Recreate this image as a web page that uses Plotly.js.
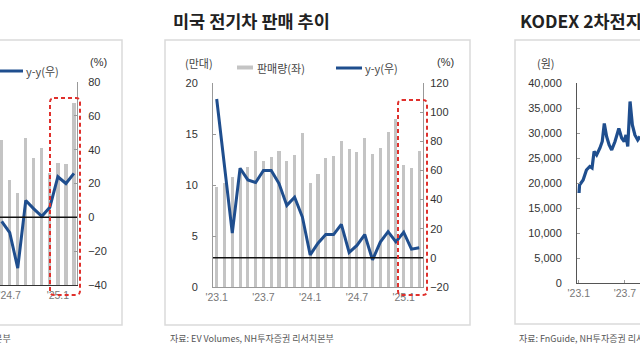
<!DOCTYPE html>
<html>
<head>
<meta charset="utf-8">
<script src="https://cdn.plot.ly/plotly-3.0.1.min.js"></script>
<style>html,body{margin:0;padding:0;background:#fff;}#chart{width:640px;height:360px;}</style>
</head>
<body>
<div id="chart"></div>
<script>
// ---- Left (partial) chart: y-y growth with bars (left axis cut off) ----
const leftMonths = ["2024-06","2024-07","2024-08","2024-09","2024-10","2024-11","2024-12","2025-01","2025-02","2025-03"];
const leftBars   = [28.6, 20.7, 18.1, 29.0, 25.0, 27.0, 22.0, 24.0, 23.8, 35.9];
const leftYoY    = [-2.4, -9, -30, 10, 5, 0.6, 6, 24, 20, 26];
const leftTickVals = ["2024-07","2025-01"];
const leftTickText = ["'24.7","'25.1"];

// ---- Middle chart: US EV sales ----
const usMonths = ["2023-01","2023-02","2023-03","2023-04","2023-05","2023-06","2023-07","2023-08","2023-09","2023-10","2023-11","2023-12",
                  "2024-01","2024-02","2024-03","2024-04","2024-05","2024-06","2024-07","2024-08","2024-09","2024-10","2024-11","2024-12",
                  "2025-01","2025-02","2025-03"];
const usSales = [9.8, 10.2, 10.8, 11.6, 11.8, 13.3, 12.4, 12.7, 13.3, 12.4, 12.9, 15.1,
                 10.2, 11.1, 12.6, 12.8, 14.3, 13.5, 13.2, 14.6, 13.0, 13.6, 15.2, 16.5,
                 12.0, 11.7, 13.3];
const usYoY   = [109, 63, 17, 61.5, 53.5, 51.7, 60, 60, 51, 36, 41.6, 28,
                 2, 10, 16, 16, 23, 3.7, 8.5, 16, -1.4, 10.8, 18, 11,
                 17.6, 6, 7];
const usTickVals = ["2023-01","2023-07","2024-01","2024-07","2025-01"];
const usTickText = ["'23.1","'23.7","'24.1","'24.7","'25.1"];

// ---- Right (partial) chart: KODEX battery ETF price ----
const etfDates = ["2023-01-02","2023-01-04","2023-01-18","2023-01-31","2023-02-13","2023-02-22","2023-03-02","2023-03-12",
                  "2023-03-25","2023-04-03","2023-04-11","2023-04-20","2023-04-30","2023-05-10","2023-05-23","2023-06-07",
                  "2023-06-18","2023-06-28","2023-07-05","2023-07-12","2023-07-21","2023-07-30","2023-08-09","2023-08-20","2023-08-29"];
const etfPrice = [18000, 19600, 20600, 22600, 23300, 23000, 26300, 25600,
                  27000, 28300, 31900, 29300, 27600, 26600, 28300, 30900,
                  29000, 28300, 29600, 27300, 36300, 31600, 29600, 28600, 29300];
const etfTickVals = ["2023-01-01","2023-07-01"];
const etfTickText = ["'23.1","'23.7"];

const P = px => px / 640;
const Q = py => (360 - py) / 360;
const NUM = "Liberation Sans, Arial, sans-serif";
const KR = "Noto Sans CJK KR, sans-serif";
const BAR = "#c4c4c4", LINE = "#1f4e8e", RED = "#e0302c";

const traces = [
  {type:"bar", x:leftMonths, y:leftBars, xaxis:"x", yaxis:"y", marker:{color:BAR}, width:0.4},
  {type:"scatter", mode:"lines", x:leftMonths, y:leftYoY, xaxis:"x", yaxis:"y2", line:{color:LINE, width:3}},
  {type:"bar", x:usMonths, y:usSales, xaxis:"x2", yaxis:"y3", marker:{color:BAR}, width:0.4},
  {type:"scatter", mode:"lines", x:usMonths, y:usYoY, xaxis:"x2", yaxis:"y4", line:{color:LINE, width:3}},
  {type:"scatter", mode:"lines", x:etfDates, y:etfPrice, xaxis:"x3", yaxis:"y5", line:{color:LINE, width:3.2}}
];

const tickY = {family:NUM, size:11, color:"#333"};
const tickX = {family:NUM, size:10.5, color:"#777"};

function rrect(x0, y0, x1, y1, r) {
  const a = P(x0), b = P(x1), c = Q(y0), d = Q(y1), rx = r/640, ry = r/360;
  return `M ${a+rx},${c} L ${b-rx},${c} Q ${b},${c} ${b},${c-ry} L ${b},${d+ry} Q ${b},${d} ${b-rx},${d} L ${a+rx},${d} Q ${a},${d} ${a},${d+ry} L ${a},${c-ry} Q ${a},${c} ${a+rx},${c} Z`;
}

const layout = {
  width:640, height:360, margin:{l:0,r:0,t:0,b:0},
  paper_bgcolor:"#ffffff", plot_bgcolor:"rgba(0,0,0,0)", showlegend:false,
  font:{family:KR, size:11, color:"#333"},
  bargap:0,
  xaxis:{domain:[0, P(77)], anchor:"y", type:"category", categoryorder:"array", categoryarray:leftMonths,
         range:[-0.21, 9.38], tickvals:leftTickVals, ticktext:leftTickText, tickfont:tickX,
         showline:true, linecolor:"#333", linewidth:1, ticks:"", showgrid:false, zeroline:false},
  yaxis:{domain:[Q(285), Q(82)], anchor:"x", range:[0, 40], visible:false, showgrid:false, zeroline:false},
  yaxis2:{overlaying:"y", anchor:"x", side:"right", range:[-40, 80], dtick:20, tickfont:tickY,
          showline:true, linecolor:"#999", ticks:"inside", ticklen:3, tickcolor:"#999",
          showgrid:false, zeroline:false, ticklabelstandoff:8},
  xaxis2:{domain:[P(213), P(423)], anchor:"y3", type:"category", categoryorder:"array", categoryarray:usMonths,
          range:[-0.475, 26.48], tickvals:usTickVals, ticktext:usTickText, tickfont:tickX,
          showline:true, linecolor:"#999", ticks:"", showgrid:false, zeroline:false},
  yaxis3:{domain:[Q(287), Q(83)], anchor:"x2", range:[0, 20], dtick:5, tickfont:tickY,
          showline:true, linecolor:"#999", ticks:"inside", ticklen:3, tickcolor:"#999",
          showgrid:false, zeroline:false, ticklabelstandoff:12},
  yaxis4:{overlaying:"y3", anchor:"x2", side:"right", range:[-20, 120], dtick:20, tickfont:tickY,
          showline:true, linecolor:"#999", ticks:"inside", ticklen:3, tickcolor:"#999",
          showgrid:false, zeroline:false, ticklabelstandoff:4},
  xaxis3:{domain:[P(577), 1], anchor:"y5", type:"date", range:["2022-12-25","2023-08-29"],
          tickvals:etfTickVals, ticktext:etfTickText, tickfont:tickX,
          showline:true, linecolor:"#555", ticks:"inside", ticklen:3, tickcolor:"#999", showgrid:false, zeroline:false},
  yaxis5:{domain:[Q(283), Q(83)], anchor:"x3", range:[0, 40000], dtick:5000, tickformat:",d", tickfont:tickY,
          showline:true, linecolor:"#555", ticks:"inside", ticklen:3, tickcolor:"#999",
          showgrid:false, zeroline:false, ticklabelstandoff:12},
  shapes:[
    // panel frames
    {type:"rect", xref:"paper", yref:"paper", x0:-0.02, x1:P(122), y0:Q(325), y1:Q(40), line:{color:"#dadada", width:1.5}, layer:"below"},
    {type:"rect", xref:"paper", yref:"paper", x0:P(165), x1:P(470), y0:Q(325), y1:Q(40), line:{color:"#dadada", width:1.5}, layer:"below"},
    {type:"rect", xref:"paper", yref:"paper", x0:P(515), x1:1.02, y0:Q(324), y1:Q(40), line:{color:"#dadada", width:1.5}, layer:"below"},
    // zero reference lines drawn over the bars
    {type:"line", xref:"x domain", yref:"y2", x0:0, x1:1, y0:0, y1:0, line:{color:"#111", width:1.5}, layer:"above"},
    {type:"line", xref:"x2 domain", yref:"y4", x0:0, x1:1, y0:0, y1:0, line:{color:"#111", width:1.5}, layer:"above"},
    // legend samples
    {type:"line", xref:"paper", yref:"paper", x0:-0.01, x1:P(23), y0:Q(71), y1:Q(71), line:{color:LINE, width:3}},
    {type:"rect", xref:"paper", yref:"paper", x0:P(237), x1:P(253), y0:Q(69.5), y1:Q(65.5), fillcolor:BAR, line:{width:0}},
    {type:"line", xref:"paper", yref:"paper", x0:P(336), x1:P(362), y0:Q(68), y1:Q(68), line:{color:LINE, width:3}},
    // red dashed highlight boxes
    {type:"path", xref:"paper", yref:"paper", path:rrect(50, 98, 80, 295, 4), line:{color:RED, width:2, dash:"4px,3px"}, layer:"above"},
    {type:"path", xref:"paper", yref:"paper", path:rrect(398, 100, 427, 295, 4), line:{color:RED, width:2, dash:"4px,3px"}, layer:"above"}
  ],
  annotations:[
    {xref:"paper", yref:"paper", x:P(171), y:Q(20), xanchor:"left", yanchor:"middle", showarrow:false,
     text:"<b>미국 전기차 판매 추이</b>", font:{family:KR, size:17.5, color:"#222"}},
    {xref:"paper", yref:"paper", x:P(518), y:Q(20), xanchor:"left", yanchor:"middle", showarrow:false,
     text:"<b>KODEX 2차전지산업 주가 추이</b>", font:{family:KR, size:17.5, color:"#222"}},
    {xref:"paper", yref:"paper", x:P(24), y:Q(71), xanchor:"left", yanchor:"middle", showarrow:false,
     text:"y-y(우)", font:{family:KR, size:11, color:"#444"}},
    {xref:"paper", yref:"paper", x:P(98), y:Q(62), xanchor:"center", yanchor:"middle", showarrow:false,
     text:"(%)", font:{family:NUM, size:11, color:"#333"}},
    {xref:"paper", yref:"paper", x:P(199), y:Q(63), xanchor:"center", yanchor:"middle", showarrow:false,
     text:"(만대)", font:{family:KR, size:11, color:"#444"}},
    {xref:"paper", yref:"paper", x:P(255), y:Q(68), xanchor:"left", yanchor:"middle", showarrow:false,
     text:"판매량(좌)", font:{family:KR, size:11, color:"#444"}},
    {xref:"paper", yref:"paper", x:P(363), y:Q(68), xanchor:"left", yanchor:"middle", showarrow:false,
     text:"y-y(우)", font:{family:KR, size:11, color:"#444"}},
    {xref:"paper", yref:"paper", x:P(445), y:Q(62), xanchor:"center", yanchor:"middle", showarrow:false,
     text:"(%)", font:{family:NUM, size:11, color:"#333"}},
    {xref:"paper", yref:"paper", x:P(546), y:Q(63), xanchor:"center", yanchor:"middle", showarrow:false,
     text:"(원)", font:{family:KR, size:11, color:"#444"}},
    {xref:"paper", yref:"paper", x:P(13), y:Q(338), xanchor:"right", yanchor:"middle", showarrow:false,
     text:"자료: NH투자증권 리서치본부", font:{family:KR, size:9, color:"#555"}},
    {xref:"paper", yref:"paper", x:P(168), y:Q(338), xanchor:"left", yanchor:"middle", showarrow:false,
     text:"자료: EV Volumes, NH투자증권 리서치본부", font:{family:KR, size:9, color:"#555"}},
    {xref:"paper", yref:"paper", x:P(517), y:Q(338), xanchor:"left", yanchor:"middle", showarrow:false,
     text:"자료: FnGuide, NH투자증권 리서치본부", font:{family:KR, size:9, color:"#555"}}
  ]
};

Plotly.newPlot("chart", traces, layout, {staticPlot:true, displayModeBar:false});
</script>
</body>
</html>
